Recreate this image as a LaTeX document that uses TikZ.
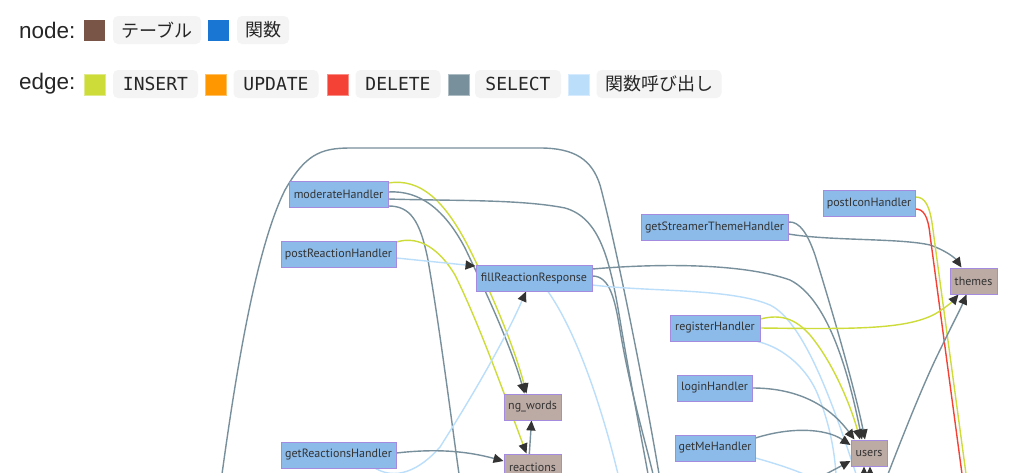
\documentclass[tikz,border=0pt]{standalone}
\usepackage{fontspec}
\setmainfont{Liberation Sans}
\newfontfamily\cjkf{Noto Sans CJK JP}
\newfontfamily\monof{DejaVu Sans Mono}
\newfontfamily\nodef{PT Sans}
\usetikzlibrary{arrows.meta,calc}
\pgfdeclarelayer{bg}
\pgfsetlayers{bg,main}
\definecolor{cIns}{HTML}{CDDC39}
\definecolor{cUpd}{HTML}{FF9800}
\definecolor{cDel}{HTML}{F44336}
\definecolor{cSel}{HTML}{78909C}
\definecolor{cCall}{HTML}{BBDEFB}
\definecolor{cTab}{HTML}{795548}
\definecolor{cFn}{HTML}{1976D2}
\definecolor{fillFn}{HTML}{8CBBE9}
\definecolor{fillTab}{HTML}{BCAAA4}
\definecolor{bordr}{HTML}{A58BE0}
\definecolor{chipbg}{HTML}{F4F4F4}
\definecolor{txt}{HTML}{333333}
\definecolor{arrowc}{HTML}{333333}
\tikzset{
  fnnode/.style={draw=bordr, fill=fillFn, line width=1pt, minimum height=26pt, inner sep=0pt, font=\nodef\fontsize{12}{14}\selectfont, text=txt},
  tabnode/.style={fnnode, fill=fillTab},
  chip/.style={fill=chipbg, rounded corners=5pt, minimum height=28pt, inner sep=0pt, text=black!85},
  swatch/.style={minimum size=21pt, inner sep=0pt},
  lgd/.style={anchor=west, inner sep=0pt, font=\fontsize{22.5}{26}\selectfont, text=black!85},
  sel/.style={draw=cSel, line width=1.4pt},
  insl/.style={draw=cIns, line width=1.4pt},
  dell/.style={draw=cDel, line width=1.4pt},
  calll/.style={draw=cCall, line width=1.4pt},
  arr/.style={-{Triangle[length=10pt,width=9pt,color=arrowc]}},
}
\begin{document}
\begin{tikzpicture}[x=1pt,y=-1pt]
\clip (0,0) rectangle (1024,472);

% ---------- legend ----------
\node[lgd] (lnode) at (19,30) {node:};
\node[swatch, fill=cTab] (sTab) at (94.5,30.5) {};
\node[chip, minimum width=88pt, font=\cjkf\fontsize{18}{20}\selectfont] (kTab) at (157,30) {テーブル};
\node[swatch, fill=cFn] (sFn) at (218,30.5) {};
\node[chip, minimum width=52pt, font=\cjkf\fontsize{18}{20}\selectfont] (kFn) at (263,30) {関数};

\node[lgd] (ledge) at (19,84) {edge:};
\node[swatch, fill=cIns, draw=cIns!60, line width=0.8pt] (sIns) at (95,84.5) {};
\node[chip, minimum width=85pt, font=\monof\fontsize{18}{20}\selectfont] (kIns) at (155.5,84) {INSERT};
\node[swatch, fill=cUpd, draw=cUpd!60, line width=0.8pt] (sUpd) at (216,84.5) {};
\node[chip, minimum width=85pt, font=\monof\fontsize{18}{20}\selectfont] (kUpd) at (276,84) {UPDATE};
\node[swatch, fill=cDel, draw=cDel!60, line width=0.8pt] (sDel) at (338,84.5) {};
\node[chip, minimum width=85pt, font=\monof\fontsize{18}{20}\selectfont] (kDel) at (398,84) {DELETE};
\node[swatch, fill=cSel, draw=cSel!60, line width=0.8pt] (sSel) at (459,84.5) {};
\node[chip, minimum width=86pt, font=\monof\fontsize{18}{20}\selectfont] (kSel) at (518,84) {SELECT};
\node[swatch, fill=cCall, draw=cCall!60, line width=0.8pt] (sCall) at (579,84.5) {};
\node[chip, minimum width=125pt, font=\cjkf\fontsize{18}{20}\selectfont] (kCall) at (659,84) {関数呼び出し};

% ---------- graph nodes ----------
\node[fnnode, minimum width=99pt] (moderateHandler) at (338.5,194) {moderateHandler};
\node[fnnode, minimum width=115pt] (postReactionHandler) at (338.5,254) {postReactionHandler};
\node[fnnode, minimum width=116pt] (fillReactionResponse) at (534,278) {fillReactionResponse};
\node[tabnode, minimum width=57pt] (ngwords) at (532.5,407) {ng\_words};
\node[tabnode, minimum width=57pt] (reactions) at (532.5,467) {reactions};
\node[fnnode, minimum width=115pt] (getReactionsHandler) at (338.5,455) {getReactionsHandler};
\node[fnnode, minimum width=147pt] (getStreamerThemeHandler) at (714.5,227) {getStreamerThemeHandler};
\node[fnnode, minimum width=92pt] (postIconHandler) at (869,203) {postIconHandler};
\node[tabnode, minimum width=47pt] (themes) at (973.5,281) {themes};
\node[fnnode, minimum width=90pt] (registerHandler) at (715,328) {registerHandler};
\node[fnnode, minimum width=75pt] (loginHandler) at (714.5,388) {loginHandler};
\node[fnnode, minimum width=80pt] (getMeHandler) at (715,448) {getMeHandler};
\node[tabnode, minimum width=36pt] (users) at (869,453) {users};

% ---------- free ends (below the visible area) ----------
\coordinate (bArchL) at (222,474);
\coordinate (bArchR) at (659,474);
\coordinate (bMod1) at (459,474);
\coordinate (bMod2) at (648,474);
\coordinate (bFill1) at (653,474);
\coordinate (bFill2) at (856,474);
\coordinate (bFill3) at (618,474);
\coordinate (bReg) at (836,474);
\coordinate (bMe) at (806,475);
\coordinate (bIns) at (966,474);
\coordinate (bDel) at (962,474);
\coordinate (bNg) at (528,474);
\coordinate (bUsr1) at (826,474);
\coordinate (bUsr2) at (864,482);
\coordinate (bUsr3) at (870,482);
\coordinate (bTh) at (888,474);

% ---------- edges (under the nodes) ----------
\begin{pgfonlayer}{bg}
\fill[white] (0,0) rectangle (1024,472);
% big arch
\draw[sel] (bArchL) .. controls (235,380) and (255,250) .. (285,190) .. controls (305,155) and (320,148) .. (350,148) -- (540,148) .. controls (575,148) and (592,160) .. (600,185) .. controls (615,240) and (645,390) .. (bArchR);

% moderateHandler
\draw[insl,arr] ($(moderateHandler.east)+(0,-11)$) .. controls (420,178) and (445,200) .. (470,250) .. controls (495,300) and (515,350) .. ($(ngwords.north)+(-6,0)$);
\draw[sel,arr] ($(moderateHandler.east)+(0,-2)$) .. controls (420,190) and (445,210) .. (465,248) .. controls (490,300) and (512,350) .. ($(ngwords.north)+(-8,0)$);
\draw[sel] ($(moderateHandler.east)+(0,5)$) .. controls (450,201) and (520,199) .. (565,208) .. controls (600,218) and (610,260) .. (620,320) .. controls (630,380) and (640,430) .. (bMod2);
\draw[sel] ($(moderateHandler.east)+(0,12)$) .. controls (410,206) and (420,220) .. (428,260) .. controls (440,330) and (450,410) .. (bMod1);

% postReactionHandler
\draw[insl,arr] ($(postReactionHandler.east)+(0,-12)$) .. controls (420,235) and (440,250) .. (455,275) .. controls (480,325) and (510,410) .. ($(reactions.north)+(-6,0)$);
\draw[calll,arr] ($(postReactionHandler.east)+(0,4)$) -- ($(fillReactionResponse.west)+(0,-12)$);

% fillReactionResponse
\draw[sel,arr] ($(fillReactionResponse.east)+(0,-9)$) .. controls (650,264) and (740,262) .. (790,280) .. controls (830,300) and (850,380) .. ($(users.north)+(-7,0)$);
\draw[sel] ($(fillReactionResponse.east)+(0,-2)$) .. controls (610,276) and (615,300) .. (620,330) .. controls (630,390) and (645,440) .. (bFill1);
\draw[calll] ($(fillReactionResponse.east)+(0,7)$) .. controls (650,292) and (730,288) .. (770,305) .. controls (805,322) and (835,410) .. (bFill2);
\draw[calll] ($(fillReactionResponse.south)+(14,0)$) .. controls (575,330) and (600,400) .. (bFill3);

% getReactionsHandler
\draw[calll,arr] ($(getReactionsHandler.south)+(34,-2)$) .. controls (395,482) and (420,470) .. (440,447) .. controls (470,400) and (505,340) .. ($(fillReactionResponse.south)+(-8,0)$);
\draw[sel,arr] ($(getReactionsHandler.east)+(0,-2)$) .. controls (440,448) and (470,452) .. ($(reactions.west)+(0,-6)$);

% into ng_words from below
\draw[sel,arr] (bNg) -- ($(ngwords.south)+(-1,0)$);

% getStreamerThemeHandler
\draw[sel,arr] ($(getStreamerThemeHandler.east)+(0,-5)$) .. controls (800,221) and (808,235) .. (815,255) .. controls (835,320) and (855,390) .. ($(users.north)+(-4,0)$);
\draw[sel,arr] ($(getStreamerThemeHandler.east)+(0,7)$) .. controls (830,241) and (900,238) .. (930,245) .. controls (945,250) and (955,258) .. ($(themes.north)+(-12,0)$);

% postIconHandler
\draw[insl] ($(postIconHandler.east)+(0,-6)$) .. controls (925,197) and (930,205) .. (933,230) -- (bIns);
\draw[dell] ($(postIconHandler.east)+(0,6)$) .. controls (923,209) and (928,215) .. (930,235) -- (bDel);

% registerHandler
\draw[insl,arr] ($(registerHandler.east)+(0,-9)$) .. controls (780,314) and (795,318) .. (810,335) .. controls (835,365) and (852,410) .. ($(users.north)+(-9,0)$);
\draw[insl,arr] (registerHandler.east) .. controls (850,329) and (905,330) .. (935,314) .. controls (945,308) and (952,302) .. ($(themes.south)+(-15,0)$);
\draw[calll] ($(registerHandler.south east)+(-3,0)$) .. controls (785,348) and (808,370) .. (818,395) .. controls (828,420) and (834,445) .. (bReg);

% loginHandler
\draw[sel,arr] (loginHandler.east) .. controls (790,388) and (825,400) .. ($(users.north west)+(4,0)$);
% getMeHandler
\draw[sel,arr] ($(getMeHandler.east)+(0,-10)$) .. controls (790,427) and (825,428) .. ($(users.west)+(0,-8)$);
\draw[calll] ($(getMeHandler.east)+(0,10)$) .. controls (770,462) and (790,468) .. (bMe);

% into users / themes from below
\draw[sel,arr] (bUsr1) -- ($(users.west)+(0,8)$);
\draw[sel,arr] (bUsr2) -- ($(users.south)+(-5,0)$);
\draw[sel,arr] (bUsr3) -- ($(users.south)+(1,0)$);
\draw[sel,arr] (bTh) .. controls (905,430) and (925,380) .. (940,350) .. controls (952,325) and (960,310) .. ($(themes.south)+(-7,0)$);
\end{pgfonlayer}
\end{tikzpicture}
\end{document}
